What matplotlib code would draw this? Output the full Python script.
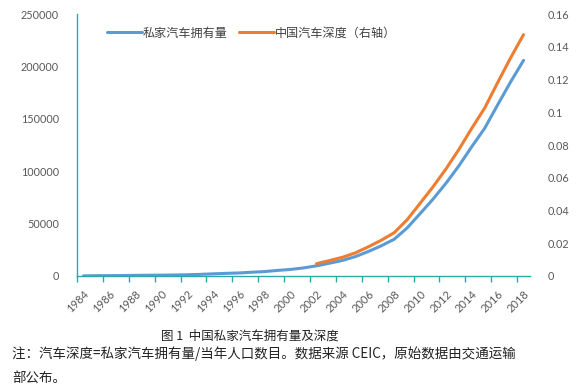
import matplotlib
matplotlib.use('Agg')
import matplotlib.pyplot as plt
import numpy as np

# data
years = list(range(1984, 2019))
private_cars = [100, 285, 347, 423, 604, 731, 816, 960, 1182, 1558, 2054, 2500,
                2897, 3584, 4237, 5339, 6253, 7708, 9690, 12192, 14817, 18481,
                23333, 28762, 35014, 45749, 59387, 73268, 88386, 105017, 123394,
                140991, 163302, 185151, 205749]
depth_years = list(range(2002, 2019))
car_depth = [0.0075, 0.0094, 0.0114, 0.0141, 0.0178, 0.0218, 0.0264, 0.0343,
             0.0443, 0.0544, 0.0653, 0.0772, 0.0902, 0.1026, 0.1181, 0.1332, 0.1474]

label_blue = '私家汽车拥有量'
label_orange = '中国汽车深度（右轴）'
caption = '图 1  中国私家汽车拥有量及深度'
note_1 = '注：汽车深度=私家汽车拥有量/当年人口数目。数据来源 CEIC，原始数据由交通运输'
note_2 = '部公布。'

cjk = ['Noto Sans CJK SC', 'DejaVu Sans']
num_font = 'Lato'
teal = '#2BA9A9'
grey = '#595959'

fig = plt.figure(figsize=(5.76, 3.9), dpi=100)
ax = fig.add_axes([77/576, 1 - 276/390, (530 - 77)/576, (276 - 14)/390])
ax2 = ax.twinx()

# categories sit between tick marks, like Excel
x_blue = [y - years[0] + 0.5 for y in years]
x_orange = [y - years[0] + 0.5 for y in depth_years]

l1, = ax.plot(x_blue, private_cars, color='#5B9BD5', lw=2.2, solid_capstyle='round')
l2, = ax2.plot(x_orange, car_depth, color='#ED7D31', lw=2.2, solid_capstyle='round')

ax.set_xlim(0, len(years))
ax.set_ylim(0, 250000)
ax2.set_ylim(0, 0.16)

ax.set_yticks(np.arange(0, 250001, 50000))
ax.set_yticklabels([str(v) for v in range(0, 250001, 50000)])
ax2.set_yticks(np.arange(0, 0.161, 0.02))
ax2.set_yticklabels(['0', '0.02', '0.04', '0.06', '0.08', '0.1', '0.12', '0.14', '0.16'])

# tick marks on boundaries, labels at category centres
ax.set_xticks(np.arange(0, len(years) + 1, 2))
ax.set_xticklabels([])
ax.set_xticks([i + 0.5 for i in range(0, len(years), 2)], minor=True)
ax.set_xticklabels([str(y) for y in years[::2]], minor=True, rotation=45,
                   ha='right', va='top', rotation_mode='anchor')
ax.tick_params(axis='x', which='major', direction='out', length=4, width=1, color=teal)
ax.tick_params(axis='x', which='minor', length=0, pad=9, labelsize=8, labelcolor=grey)
for t in ax.get_xticklabels(minor=True):
    t.set_fontfamily(num_font)

ax.tick_params(axis='y', length=0, pad=13, labelsize=7.8, labelcolor=grey)
ax2.tick_params(axis='y', length=0, pad=13, labelsize=7.8, labelcolor=grey)
for t in ax.get_yticklabels() + ax2.get_yticklabels():
    t.set_fontfamily(num_font)

for a in (ax, ax2):
    a.spines['top'].set_visible(False)
    a.spines['right'].set_visible(False)
ax2.spines['left'].set_visible(False)
ax2.spines['bottom'].set_visible(False)
ax.spines['left'].set_color(teal)
ax.spines['bottom'].set_color(teal)
ax.spines['left'].set_linewidth(1)
ax.spines['bottom'].set_linewidth(1)

leg = ax.legend([l1, l2], [label_blue, label_orange], loc='center left',
                bbox_to_anchor=(0.055, 0.927), ncol=2, frameon=False,
                prop={'family': cjk, 'size': 8.7}, handlelength=2.9,
                handletextpad=0.1, columnspacing=0.9, borderaxespad=0)
for t in leg.get_texts():
    t.set_color('#404040')

fig.text(250/576, 1 - 336/390, caption, ha='center', va='center',
         fontsize=9, family=cjk, color='#222222')
fig.text(12/576, 1 - 354/390, note_1, ha='left', va='center',
         fontsize=9.7, family=cjk, color='#222222')
fig.text(12/576, 1 - 379/390, note_2, ha='left', va='center',
         fontsize=9.7, family=cjk, color='#222222')

fig.savefig('out.png', dpi=100, facecolor='white')
